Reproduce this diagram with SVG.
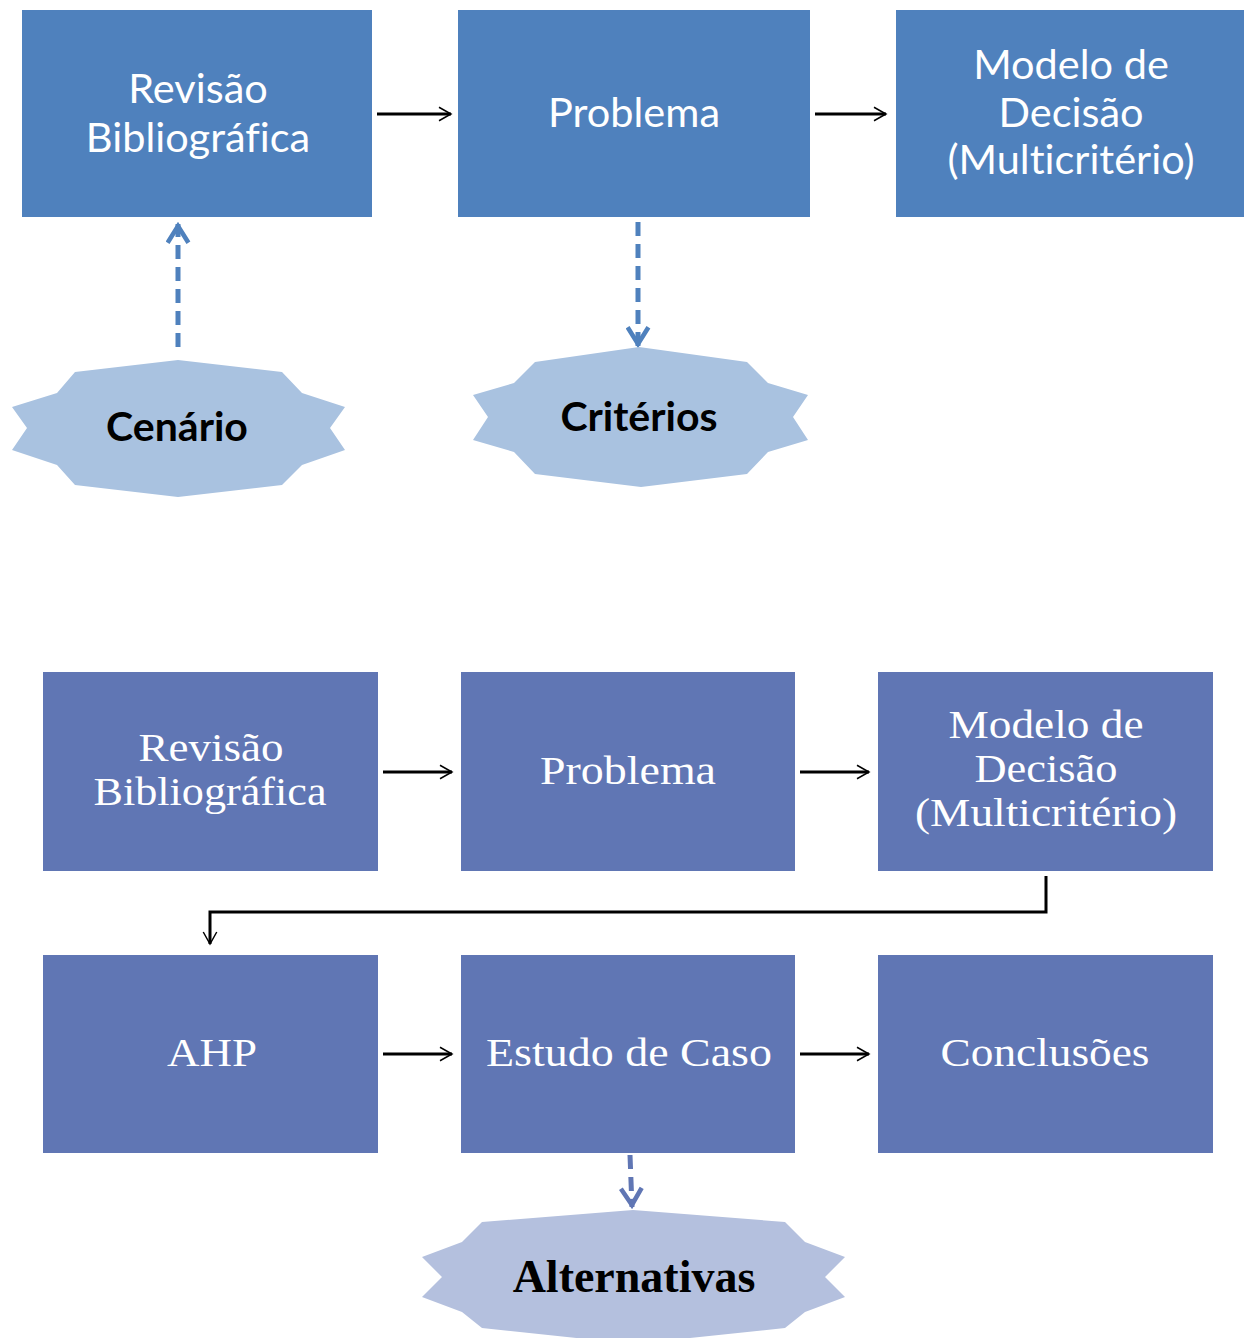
<svg xmlns="http://www.w3.org/2000/svg" width="1244" height="1338" viewBox="0 0 1244 1338">
<style>
.b1{fill:#4F81BD}
.b2{fill:#6076B4}
.s1{fill:#A9C2E0}
.s2{fill:#B4C0DE}
text{font-variant-ligatures:none;font-feature-settings:"liga" 0}
.t1{font-family:Lato,"Open Sans","Liberation Sans",sans-serif;font-size:41.5px;fill:#FFFFFF;text-anchor:middle}
.t2{font-family:"Liberation Serif","DejaVu Serif",serif;font-size:41px;fill:#FFFFFF;text-anchor:middle}
.st1{font-family:Lato,"Open Sans","Liberation Sans",sans-serif;font-size:41px;font-weight:bold;fill:#000;text-anchor:middle}
.st2{font-family:"Liberation Serif","DejaVu Serif",serif;font-size:46px;font-weight:bold;fill:#000;text-anchor:middle}
.k{stroke:#000;stroke-width:3;fill:none}
.d1{stroke:#4F81BD;stroke-width:5;fill:none;stroke-dasharray:14,8}
.d2{stroke:#6076B4;stroke-width:5;fill:none;stroke-dasharray:14,8}
</style>
<defs>
<marker id="akL" viewBox="0 0 12 12" refX="11" refY="6" markerWidth="6" markerHeight="6" orient="auto"><path d="M3,1.5 L11,6 L3,10.5" fill="none" stroke="#000" stroke-width="1"/></marker>
<marker id="ad1" viewBox="0 0 12 12" refX="11" refY="6" markerWidth="5" markerHeight="5" orient="auto"><path d="M2,1 L10,6 L2,11" fill="none" stroke="#4F81BD" stroke-width="2.2"/></marker>
<marker id="ad2" viewBox="0 0 12 12" refX="11" refY="6" markerWidth="5" markerHeight="5" orient="auto"><path d="M2,1 L10,6 L2,11" fill="none" stroke="#6076B4" stroke-width="2.2"/></marker>
</defs>

<g id="connectors">
<line class="k" x1="377" y1="114" x2="451" y2="114" marker-end="url(#akL)"/>
<line class="k" x1="815" y1="114" x2="886" y2="114" marker-end="url(#akL)"/>
<line class="d1" x1="178" y1="347" x2="178" y2="224" marker-end="url(#ad1)"/>
<line class="d1" x1="638" y1="222" x2="638" y2="346" marker-end="url(#ad1)"/>
<line class="k" x1="383" y1="772" x2="452" y2="772" marker-end="url(#akL)"/>
<line class="k" x1="800" y1="772" x2="869" y2="772" marker-end="url(#akL)"/>
<polyline class="k" points="1046,876 1046,912 210,912 210,944" marker-end="url(#akL)"/>
<line class="k" x1="383" y1="1054" x2="452" y2="1054" marker-end="url(#akL)"/>
<line class="k" x1="800" y1="1054" x2="869" y2="1054" marker-end="url(#akL)"/>
<line class="d2" x1="630" y1="1155" x2="632" y2="1207" marker-end="url(#ad2)"/>
</g>

<g id="n-revisao1"><rect class="b1" x="22" y="10" width="350" height="207"/>
<text class="t1" x="198" y="103">Revisão</text><text class="t1" x="198" y="152">Bibliográfica</text></g>
<g id="n-problema1"><rect class="b1" x="458" y="10" width="352" height="207"/>
<text class="t1" x="634" y="127">Problema</text></g>
<g id="n-modelo1"><rect class="b1" x="896" y="10" width="348" height="207"/>
<text class="t1" x="1071" y="79">Modelo de</text><text class="t1" x="1071" y="127">Decisão</text><text class="t1" x="1071" y="174">(Multicritério)</text></g>

<g id="n-cenario"><polygon class="s1" points="178,360 282,372 302,393 345,407 330,428 345,450 302,465 282,485 178,497 75,485 57,465 12,450 27,428 12,407 57,393 75,372"/>
<text class="st1" x="177" y="441">Cenário</text></g>
<g id="n-criterios"><polygon class="s1" points="639,347 747,362 768,383 808,395 793,417 808,440 768,452 747,474 641,487 535,474 514,452 473,440 488,417 473,395 514,383 535,362"/>
<text class="st1" x="639" y="431">Critérios</text></g>

<g id="n-revisao2"><rect class="b2" x="43" y="672" width="335" height="199"/>
<text class="t2" x="211" y="761" textLength="145" lengthAdjust="spacingAndGlyphs">Revisão</text><text class="t2" x="210" y="805" textLength="233" lengthAdjust="spacingAndGlyphs">Bibliográfica</text></g>
<g id="n-problema2"><rect class="b2" x="461" y="672" width="334" height="199"/>
<text class="t2" x="628" y="784" textLength="176" lengthAdjust="spacingAndGlyphs">Problema</text></g>
<g id="n-modelo2"><rect class="b2" x="878" y="672" width="335" height="199"/>
<text class="t2" x="1046" y="738" textLength="195" lengthAdjust="spacingAndGlyphs">Modelo de</text><text class="t2" x="1046" y="782" textLength="143" lengthAdjust="spacingAndGlyphs">Decisão</text><text class="t2" x="1046" y="826" textLength="262" lengthAdjust="spacingAndGlyphs">(Multicritério)</text></g>
<g id="n-ahp"><rect class="b2" x="43" y="955" width="335" height="198"/>
<text class="t2" x="212" y="1066" textLength="90" lengthAdjust="spacingAndGlyphs">AHP</text></g>
<g id="n-estudo"><rect class="b2" x="461" y="955" width="334" height="198"/>
<text class="t2" x="629" y="1066" textLength="286" lengthAdjust="spacingAndGlyphs">Estudo de Caso</text></g>
<g id="n-conclusoes"><rect class="b2" x="878" y="955" width="335" height="198"/>
<text class="t2" x="1045" y="1066" textLength="209" lengthAdjust="spacingAndGlyphs">Conclusões</text></g>

<g id="n-alternativas"><polygon class="s2" points="633,1210 785,1222 805,1242 845,1257 825,1277 845,1297 805,1312 785,1328 633,1344 482,1328 462,1312 422,1297 442,1277 422,1257 462,1242 482,1222"/>
<text class="st2" x="634" y="1292">Alternativas</text></g>
</svg>
